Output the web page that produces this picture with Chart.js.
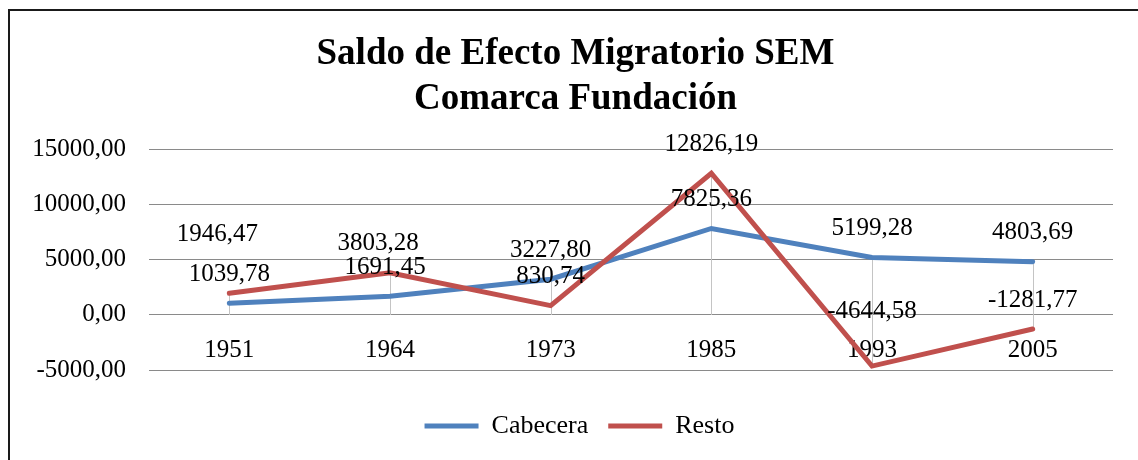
<!DOCTYPE html>
<html>
<head>
<meta charset="utf-8">
<script src="https://cdn.jsdelivr.net/npm/chart.js@4/dist/chart.umd.min.js"></script>
<style>
  body { margin: 0; background: #fff; }
  #wrap { position: relative; width: 1138px; height: 460px; overflow: hidden; }
  #frame { position: absolute; left: 8px; top: 9px; width: 1200px; height: 500px;
           border-left: 2px solid #1a1a1a; border-top: 2px solid #1a1a1a; pointer-events: none; }
</style>
</head>
<body>
<div id="wrap">
  <canvas id="semChart" width="1138" height="460"></canvas>
  <div id="frame"></div>
</div>
<script>
// years on the category axis
const years = ['1951', '1964', '1973', '1985', '1993', '2005'];
// series values
const cabecera = [1039.78, 1691.45, 3227.80, 7825.36, 5199.28, 4803.69];
const resto = [1946.47, 3803.28, 830.74, 12826.19, -4644.58, -1281.77];
// y axis ticks
const yTicks = [-5000, 0, 5000, 10000, 15000];

const serif = "'Liberation Serif', 'Times New Roman', serif";
const fmt = v => v.toFixed(2).replace('.', ',');

// gray drop lines from every point down to the zero line
const dropLines = {
  id: 'dropLines',
  beforeDatasetsDraw(chart) {
    const ctx = chart.ctx;
    const zero = chart.scales.y.getPixelForValue(0);
    ctx.save();
    ctx.strokeStyle = '#c4c4c4';
    ctx.lineWidth = 1;
    chart.data.datasets.forEach((ds, i) => {
      chart.getDatasetMeta(i).data.forEach(pt => {
        const x = Math.round(pt.x) + 0.5;
        ctx.beginPath();
        ctx.moveTo(x, pt.y);
        ctx.lineTo(x, zero);
        ctx.stroke();
      });
    });
    ctx.restore();
  }
};

// value labels above each point
const valueLabels = {
  id: 'valueLabels',
  afterDatasetsDraw(chart, args, opts) {
    const ctx = chart.ctx;
    ctx.save();
    ctx.font = '25px ' + serif;
    ctx.fillStyle = '#000';
    ctx.textAlign = 'center';
    ctx.textBaseline = 'middle';
    chart.data.datasets.forEach((ds, i) => {
      const shift = opts.shift[ds.label] || {};
      chart.getDatasetMeta(i).data.forEach((pt, j) => {
        const s = shift[j] || [0, 0];
        ctx.fillText(fmt(ds.data[j]), pt.x + s[0], pt.y - opts.offset + s[1]);
      });
    });
    ctx.restore();
  }
};

// nudge title and legend a little to the right, like the original
const boxShift = {
  id: 'boxShift',
  afterLayout(chart) {
    if (chart.legend) {
      chart.legend.left += 23;
      chart.legend.right += 23;
    }
    if (chart.titleBlock) {
      chart.titleBlock.left += 19;
      chart.titleBlock.right += 19;
    }
  }
};

new Chart(document.getElementById('semChart'), {
  type: 'line',
  data: {
    labels: years,
    datasets: [
      {
        label: 'Cabecera',
        data: cabecera,
        borderColor: '#4F81BD',
        backgroundColor: '#4F81BD',
        borderWidth: 5,
        borderCapStyle: 'round',
        pointRadius: 0,
        pointStyle: 'line',
        order: 1
      },
      {
        label: 'Resto',
        data: resto,
        borderColor: '#C0504D',
        backgroundColor: '#C0504D',
        borderWidth: 5,
        borderCapStyle: 'round',
        pointRadius: 0,
        pointStyle: 'line',
        order: 0
      }
    ]
  },
  options: {
    responsive: false,
    animation: false,
    layout: { padding: { left: 0, right: 25, top: 0, bottom: 11 } },
    scales: {
      x: {
        type: 'category',
        offset: true,
        position: { y: 0 },
        grid: { display: false },
        border: { display: false },
        ticks: { color: '#000', font: { family: serif, size: 25 }, padding: 13, maxRotation: 0 }
      },
      spacer: {
        type: 'category',
        axis: 'x',
        offset: true,
        position: 'bottom',
        grid: { display: false },
        border: { display: false },
        ticks: { display: false },
        afterFit(scale) { scale.height = 23; }
      },
      y: {
        min: -5000,
        max: 15000,
        afterBuildTicks(scale) { scale.ticks = yTicks.map(v => ({ value: v })); },
        afterFit(scale) { scale.width = 149; },
        grid: { color: '#8a8a8a', lineWidth: 1, drawTicks: false },
        border: { display: false },
        ticks: {
          color: '#000',
          font: { family: serif, size: 25 },
          padding: 23,
          callback: v => fmt(v)
        }
      }
    },
    plugins: {
      title: {
        display: true,
        text: ['Saldo de Efecto Migratorio SEM', 'Comarca Fundación'],
        color: '#000',
        font: { family: serif, size: 37, weight: 'bold', lineHeight: 1.22 },
        padding: { top: 32, bottom: 27 }
      },
      legend: {
        position: 'bottom',
        labels: {
          usePointStyle: true,
          pointStyleWidth: 54,
          color: '#000',
          font: { family: serif, size: 26 },
          padding: 20,
          sort: (a, b) => a.datasetIndex - b.datasetIndex
        }
      },
      tooltip: { enabled: false },
      valueLabels: {
        offset: 29,
        shift: {
          Cabecera: { 1: [-5, 0] },
          Resto: { 0: [-12, -30], 1: [-12, 0], 4: [0, -26] }
        }
      }
    }
  },
  plugins: [dropLines, valueLabels, boxShift]
});
</script>
</body>
</html>
